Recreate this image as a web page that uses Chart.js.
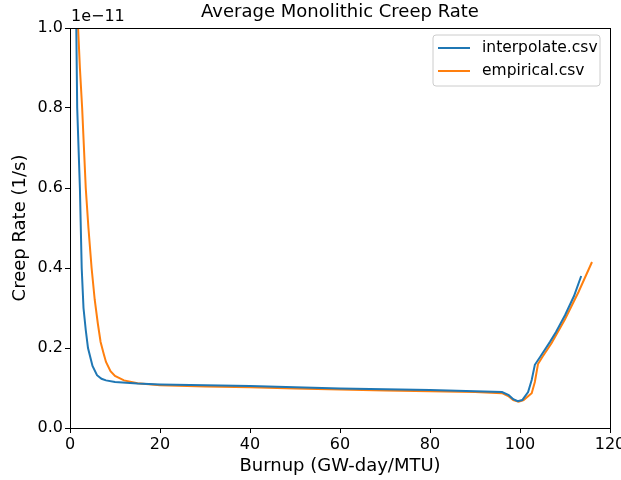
<!DOCTYPE html>
<html>
<head>
<meta charset="utf-8">
<script src="https://cdn.jsdelivr.net/npm/chart.js@4/dist/chart.umd.min.js"></script>
<style>
  body { margin: 0; background: #fff; }
  #wrap { width: 621px; height: 480px; }
</style>
</head>
<body>
<div id="wrap"><canvas id="myChart" width="621" height="480"></canvas></div>
<script>
// values in units of 1e-11 1/s
const interpBurnup = [1.0, 1.6, 2.2, 2.6, 3.0, 3.5, 4.0, 5.0, 6.0, 7.0, 8.0, 10, 15, 20, 30, 40, 50, 60, 70, 80, 90, 96, 97.5, 98.5, 99.5, 100.5, 101.8, 102.6, 103.3, 104.5, 106.7, 108, 110, 112, 113.6];
const interpRate   = [1.40, 0.80, 0.60, 0.40, 0.30, 0.245, 0.20, 0.155, 0.132, 0.123, 0.119, 0.115, 0.111, 0.109, 0.107, 0.105, 0.102, 0.099, 0.097, 0.095, 0.092, 0.090, 0.082, 0.072, 0.067, 0.070, 0.090, 0.120, 0.158, 0.178, 0.216, 0.240, 0.282, 0.330, 0.380];

const empBurnup = [1.4, 1.8, 2.2, 2.7, 3.1, 3.5, 4.1, 4.8, 5.5, 6.2, 6.8, 7.5, 8.0, 9.0, 10, 12, 15, 20, 30, 40, 50, 60, 70, 80, 90, 96, 97.5, 98.5, 99.7, 100.8, 102.6, 103.3, 104, 105, 107, 110, 113, 116];
const empRate   = [1.20, 1.00, 0.90, 0.80, 0.70, 0.60, 0.50, 0.40, 0.32, 0.26, 0.215, 0.185, 0.165, 0.142, 0.130, 0.119, 0.112, 0.107, 0.104, 0.102, 0.099, 0.096, 0.094, 0.092, 0.090, 0.087, 0.079, 0.070, 0.066, 0.070, 0.087, 0.115, 0.160, 0.178, 0.212, 0.272, 0.340, 0.415];

const xTicks = [0, 20, 40, 60, 80, 100, 120];
const yTicks = [0.0, 0.2, 0.4, 0.6, 0.8, 1.0];
const seriesNames = ["interpolate.csv", "empirical.csv"];
const seriesColors = ["#1f77b4", "#ff7f0e"];

const FONT = "'DejaVu Sans', sans-serif";

const toPts = (xs, ys) => xs.map((x, i) => ({ x: x, y: ys[i] }));

const framePlugin = {
  id: "frame",
  afterDraw(chart) {
    const ctx = chart.ctx;
    const a = chart.chartArea;
    ctx.save();
    ctx.strokeStyle = "#000";
    ctx.lineWidth = 1;
    ctx.strokeRect(a.left + 0.5, a.top + 0.5, a.right - a.left, a.bottom - a.top);

    // title and offset text
    ctx.fillStyle = "#000";
    ctx.textBaseline = "middle";
    ctx.textAlign = "center";
    ctx.font = "18px " + FONT;
    ctx.fillText("Average Monolithic Creep Rate", (a.left + a.right) / 2, 12);
    ctx.textAlign = "left";
    ctx.font = "16px " + FONT;
    ctx.fillText("1e\u221211", a.left + 1, 17);

    // legend box
    const bx = 433, by = 35, bw = 167, bh = 51, r = 3;
    ctx.fillStyle = "rgba(255,255,255,0.8)";
    ctx.strokeStyle = "#ccc";
    ctx.beginPath();
    ctx.moveTo(bx + r, by);
    ctx.arcTo(bx + bw, by, bx + bw, by + bh, r);
    ctx.arcTo(bx + bw, by + bh, bx, by + bh, r);
    ctx.arcTo(bx, by + bh, bx, by, r);
    ctx.arcTo(bx, by, bx + bw, by, r);
    ctx.closePath();
    ctx.fill();
    ctx.stroke();
    ctx.font = "15.5px " + FONT;
    seriesNames.forEach((name, i) => {
      const yy = by + 13 + i * 23;
      ctx.strokeStyle = seriesColors[i];
      ctx.lineWidth = 2;
      ctx.beginPath();
      ctx.moveTo(bx + 5, yy);
      ctx.lineTo(bx + 37, yy);
      ctx.stroke();
      ctx.fillStyle = "#000";
      ctx.fillText(name, bx + 49, yy);
    });
    ctx.restore();
  }
};

const config = {
  type: "scatter",
  data: {
    datasets: [
      {
        label: seriesNames[0],
        data: toPts(interpBurnup, interpRate),
        borderColor: seriesColors[0],
        backgroundColor: seriesColors[0],
        showLine: true,
        borderWidth: 2,
        pointRadius: 0,
        tension: 0
      },
      {
        label: seriesNames[1],
        data: toPts(empBurnup, empRate),
        borderColor: seriesColors[1],
        backgroundColor: seriesColors[1],
        showLine: true,
        borderWidth: 2,
        pointRadius: 0,
        tension: 0
      }
    ]
  },
  options: {
    responsive: false,
    animation: false,
    layout: { padding: { top: 28, right: 11, left: 0, bottom: 0 } },
    plugins: {
      legend: { display: false },
      title: { display: false },
      tooltip: { enabled: false }
    },
    scales: {
      x: {
        type: "linear",
        min: 0,
        max: 120,
        afterBuildTicks: (s) => { s.ticks = xTicks.map(v => ({ value: v })); },
        afterFit: (s) => { s.height = 52; s.paddingRight = 0; s.paddingLeft = 0; },
        ticks: {
          color: "#000",
          font: { family: FONT, size: 16 },
          padding: 2,
          maxRotation: 0,
          callback: (v) => String(v)
        },
        grid: { drawOnChartArea: false, drawTicks: true, tickLength: 5, color: "#000" },
        border: { display: true, color: "#000" },
        title: {
          display: true,
          text: "Burnup (GW-day/MTU)",
          color: "#000",
          font: { family: FONT, size: 18 },
          padding: { top: 0, bottom: 3 }
        }
      },
      y: {
        type: "linear",
        min: 0,
        max: 1,
        afterBuildTicks: (s) => { s.ticks = yTicks.map(v => ({ value: v })); },
        afterFit: (s) => { s.width = 70; s.paddingTop = 0; s.paddingBottom = 0; },
        ticks: {
          color: "#000",
          font: { family: FONT, size: 16 },
          padding: 2,
          callback: (v) => v.toFixed(1)
        },
        grid: { drawOnChartArea: false, drawTicks: true, tickLength: 5, color: "#000" },
        border: { display: true, color: "#000" },
        title: {
          display: true,
          text: "Creep Rate (1/s)",
          color: "#000",
          font: { family: FONT, size: 18 },
          padding: { top: 10, bottom: 0 }
        }
      }
    }
  },
  plugins: [framePlugin]
};

window.onload = () => {
  const myChart = new Chart(document.getElementById("myChart"), config);
};
</script>
</body>
</html>
